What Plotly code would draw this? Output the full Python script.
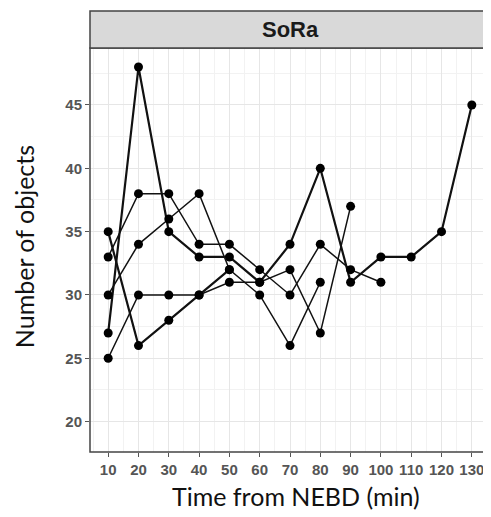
import plotly.graph_objects as go

# Time points (min from NEBD) and values for each cell track
t1 = [10, 20, 30, 40, 50, 60, 70, 80, 90, 100, 110, 120, 130]
v1 = [27, 48, 35, 33, 33, 31, 34, 40, 31, 33, 33, 35, 45]

t2 = [10, 20, 30, 40, 50, 60, 70, 80, 90, 100]
v2 = [33, 38, 38, 34, 34, 32, 30, 34, 32, 31]

t3 = [10, 20, 30, 40, 50, 60, 70, 80]
v3 = [30, 34, 36, 38, 32, 30, 26, 31]

t4 = [10, 20, 30, 40, 50]
v4 = [35, 26, 28, 30, 32]

t5 = [10, 20, 30, 40, 50, 60, 70, 80, 90]
v5 = [25, 30, 30, 30, 31, 31, 32, 27, 37]

series = [(t1, v1, 2.2), (t2, v2, 1.5), (t3, v3, 1.5), (t4, v4, 2.2), (t5, v5, 1.5)]

x_ticks = [10, 20, 30, 40, 50, 60, 70, 80, 90, 100, 110, 120, 130]
y_ticks = [20, 25, 30, 35, 40, 45]
panel_title = "SoRa"
x_title = "Time from NEBD (min)"
y_title = "Number of objects"

fig = go.Figure()
for t, v, w in series:
    fig.add_trace(go.Scatter(
        x=t, y=v, mode="lines+markers",
        line=dict(color="#111111", width=w),
        marker=dict(color="#000000", size=9),
        showlegend=False, hoverinfo="x+y",
    ))

grid_major = "#E6E6E6"
grid_minor = "#F2F2F2"
tick_font = dict(family="Liberation Sans, Arial, sans-serif", size=15, color="#555555")

fig.update_xaxes(
    range=[4, 136], tickmode="array", tickvals=x_ticks,
    ticktext=[f"<b>{v}</b>" for v in x_ticks],
    showgrid=True, gridcolor=grid_major, gridwidth=1,
    minor=dict(tickmode="array", tickvals=[v + 5 for v in x_ticks] + [5], showgrid=True,
               gridcolor=grid_minor, gridwidth=1),
    ticks="outside", ticklen=4, tickcolor="#555555",
    showline=False, zeroline=False, tickfont=tick_font, automargin=False,
)
fig.update_yaxes(
    range=[17.6, 49.5], tickmode="array", tickvals=y_ticks,
    ticktext=[f"<b>{v}</b>" for v in y_ticks],
    showgrid=True, gridcolor=grid_major, gridwidth=1,
    minor=dict(tickmode="array", tickvals=[v + 2.5 for v in y_ticks] + [17.5], showgrid=True,
               gridcolor=grid_minor, gridwidth=1),
    ticks="outside", ticklen=4, tickcolor="#555555",
    showline=False, zeroline=False, tickfont=tick_font, automargin=False,
)

strip_h = 37 / 404
fig.add_shape(type="rect", xref="paper", yref="paper", x0=0, x1=1, y0=0, y1=1,
              line=dict(color="#444444", width=1.5), fillcolor="rgba(0,0,0,0)", layer="above")
fig.add_shape(type="rect", xref="paper", yref="paper", x0=0, x1=1, y0=1, y1=1 + strip_h,
              line=dict(color="#444444", width=1.5), fillcolor="#D9D9D9")

fig.add_annotation(text=f"<b>{panel_title}</b>", xref="paper", yref="paper",
                   x=0.5, y=1 + strip_h / 2, showarrow=False,
                   xanchor="center", yanchor="middle",
                   font=dict(family="Liberation Sans, Arial, sans-serif", size=22, color="#1A1A1A"))
fig.add_annotation(text=x_title, xref="paper", yref="paper", x=0.515, y=-0.108,
                   showarrow=False, xanchor="center", yanchor="middle",
                   font=dict(family="Lato, sans-serif", size=25, color="#111111"))
fig.add_annotation(text=y_title, xref="paper", yref="paper", x=-0.165, y=0.507,
                   showarrow=False, textangle=-90, xanchor="center", yanchor="middle",
                   font=dict(family="Lato, sans-serif", size=25, color="#111111"))

# The page body adds an 8px offset; margins compensate so the panel lands at 90..490 x 48..452.
fig.update_layout(
    width=491, height=517,
    margin=dict(l=82, r=9, t=40, b=73, autoexpand=False),
    paper_bgcolor="white", plot_bgcolor="white",
    showlegend=False,
)

fig.write_html("out.html")
